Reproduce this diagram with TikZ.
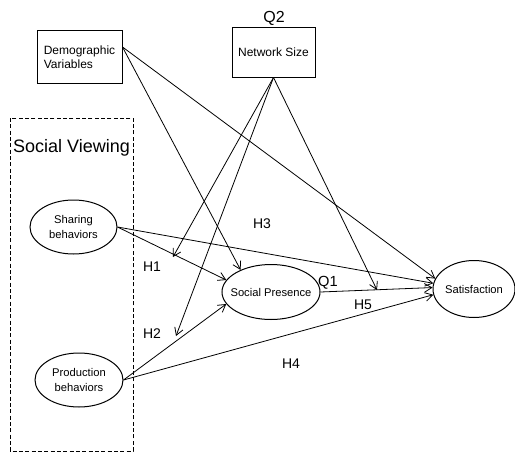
\documentclass[tikz,border=0pt]{standalone}
\usepackage{fontspec}
\setmainfont{Liberation Sans}
\usetikzlibrary{arrows.meta,shapes.geometric}

\tikzset{every picture/.style={line width=0.75pt}}
\tikzset{
  varbox/.style={draw, rectangle, inner sep=0.75pt, font=\fontsize{9}{10.5}\selectfont},
  varoval/.style={draw, ellipse, inner sep=0pt},
  ovaltext/.style={align=center, inner sep=0pt, font=\fontsize{8.4}{11}\selectfont},
  hyplabel/.style={anchor=base, inner sep=0.75pt, font=\fontsize{10.5}{12}\selectfont},
  link/.style={-{Straight Barb[length=5.5pt,width=6.5pt]}, line width=0.6pt},
}

\begin{document}
\begin{tikzpicture}[x=0.75pt,y=0.75pt,yscale=-1,xscale=1]
\path[use as bounding box] (0,0) rectangle (515,454);

%Shape: Rectangle [id:demo]
\node[varbox, minimum width=63.75pt, minimum height=39.75pt, align=left] (demo) at (79.5,57) {Demographic\\ Variables};
%Shape: Rectangle [id:net]
\node[varbox, minimum width=62.25pt, minimum height=37.5pt] (net) at (273.5,52) {Network Size};
% Text Node
\node[hyplabel, font=\fontsize{12}{14}\selectfont] (q2) at (274,22) {Q2};

%Shape: Rectangle [id:viewing]
\draw[dash pattern={on 3pt off 1.75pt}] (10,118) rectangle (133,451);
% Text Node
\node[hyplabel, font=\fontsize{13.5}{16}\selectfont] (viewlbl) at (71.5,152) {Social Viewing};

%Shape: Ellipse [id:share]
\node[varoval, minimum width=65.25pt, minimum height=40.5pt] (share) at (73.5,227) {};
\node[ovaltext] (sharetxt) at (share) {Sharing\\ behaviors};
%Shape: Ellipse [id:prod]
\node[varoval, minimum width=66pt, minimum height=40.5pt] (prod) at (79,380) {};
\node[ovaltext] (prodtxt) at (prod) {Production\\ behaviors};
%Shape: Ellipse [id:sp]
\node[varoval, minimum width=73.5pt, minimum height=41.25pt] (sp) at (271,292) {};
\node[ovaltext] (sptxt) at (sp) {Social Presence};
%Shape: Ellipse [id:sat]
\node[varoval, minimum width=61.5pt, minimum height=42.75pt] (sat) at (474,289) {};
\node[ovaltext] (sattxt) at (sat) {Satisfaction};

% free ends of the moderation arrows
\coordinate (h1end) at (173,257);
\coordinate (h2end) at (176,336);
\coordinate (h5end) at (377,290);
\coordinate (demoout) at ([yshift=-7.5pt]demo.east);

%Straight Lines
\draw[link] (demoout) -- (sat.165);
\draw[link] (demoout) -- (sp.144);
\draw[link] (net.south) -- (h1end);
\draw[link] (net.south) -- (h2end);
\draw[link] (net.south) -- (h5end);
\draw[link] (share.east) -- (sat.172);
\draw[link] (share.east) -- (sp.165);
\draw[link] (prod.east) -- (sp.195);
\draw[link] (prod.east) -- (sat.188);
\draw[link] (sp.east) -- (sat.178);

% Text Node
\node[hyplabel] (h3) at (262,228) {H3};
% Text Node
\node[hyplabel] (h1) at (152,271) {H1};
% Text Node
\node[hyplabel] (h2) at (152,338) {H2};
% Text Node
\node[hyplabel, font=\fontsize{11}{13}\selectfont] (q1) at (328,286) {Q1};
% Text Node
\node[hyplabel] (h5) at (363,309) {H5};
% Text Node
\node[hyplabel] (h4) at (291,368) {H4};

\end{tikzpicture}
\end{document}
